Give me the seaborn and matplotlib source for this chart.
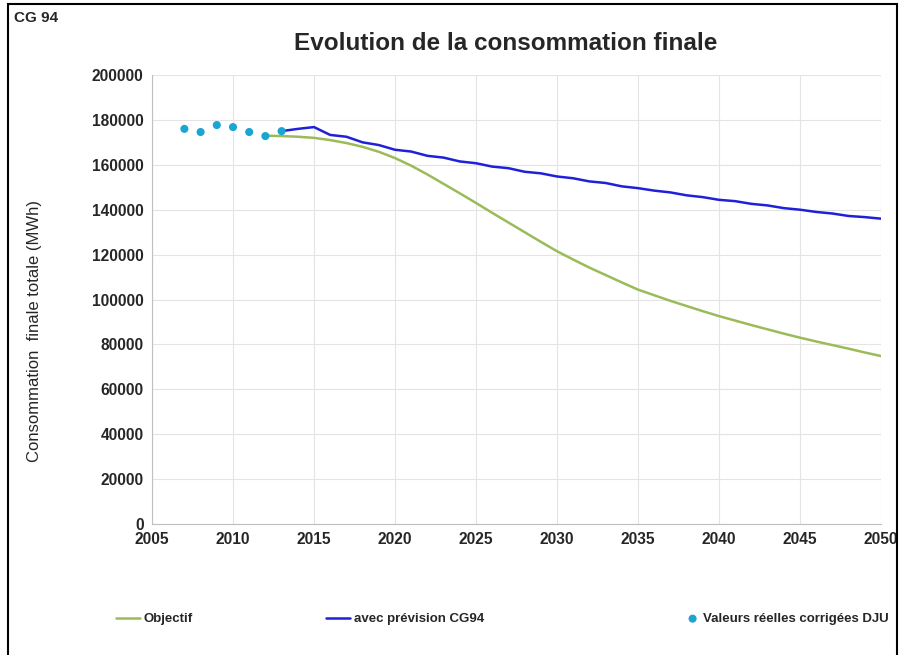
import pandas as pd
import matplotlib
matplotlib.use("Agg")
import matplotlib.pyplot as plt
import seaborn as sns
from matplotlib.patches import Rectangle

# Data
real_years = [2007, 2008, 2009, 2010, 2011, 2012, 2013]
real_values = [176000, 174600, 177700, 176800, 174600, 172800, 175000]

blue_years = list(range(2013, 2051))
blue_values = [175000, 176000, 176800, 173300, 172500, 170000, 168800, 166700,
               165900, 164000, 163200, 161500, 160700, 159200, 158500, 156900,
               156200, 154800, 154000, 152600, 151900, 150400, 149600, 148500,
               147700, 146400, 145600, 144400, 143800, 142600, 141900, 140700,
               140000, 139000, 138300, 137200, 136700, 136000]

green_years = list(range(2012, 2051))
green_values = [173000, 172800, 172500, 172000, 171000, 169700, 168000, 165800,
                163000, 159600, 155700, 151500, 147300, 143000, 138600, 134300,
                130000, 125700, 121500, 117800, 114200, 110900, 107600, 104400,
                101900, 99400, 97100, 94800, 92600, 90600, 88600, 86700,
                84800, 83000, 81300, 79700, 78100, 76400, 74800]

x_ticks = list(range(2005, 2051, 5))
y_ticks = list(range(0, 200001, 20000))

df_real = pd.DataFrame({"year": real_years, "value": real_values})
df_blue = pd.DataFrame({"year": blue_years, "value": blue_values})
df_green = pd.DataFrame({"year": green_years, "value": green_values})

sns.set_style("white")
plt.rcParams['font.family'] = ['Liberation Sans', 'DejaVu Sans']

fig = plt.figure(figsize=(9.01, 6.55), dpi=100)
ax = fig.add_axes([152 / 901, 1 - 524 / 655, (881 - 152) / 901, (524 - 75) / 655])

sns.lineplot(data=df_green, x="year", y="value", ax=ax, color="#9BBB59",
             linewidth=1.8, label="Objectif")
sns.lineplot(data=df_blue, x="year", y="value", ax=ax, color="#2020D8",
             linewidth=1.8, label="avec prévision CG94")
sns.scatterplot(data=df_real, x="year", y="value", ax=ax, color="#1AA6D2",
                s=34, edgecolor="none", label="Valeurs réelles corrigées DJU",
                zorder=3)

ax.set_xlim(2005, 2050)
ax.set_ylim(0, 200000)
ax.set_xticks(x_ticks)
ax.set_yticks(y_ticks)
ax.set_xticklabels([str(t) for t in x_ticks], fontsize=11.2, fontweight="bold")
ax.set_yticklabels([str(t) for t in y_ticks], fontsize=11.2, fontweight="bold")
ax.grid(True, color="#E4E4E4", linewidth=0.8)
ax.set_axisbelow(True)
for side in ["top", "right"]:
    ax.spines[side].set_visible(False)
for side in ["left", "bottom"]:
    ax.spines[side].set_color("#BFBFBF")
ax.tick_params(axis="both", length=3, color="#BFBFBF", pad=3)
ax.set_xlabel("")
ax.set_ylabel("Consommation  finale totale (MWh)", fontsize=12)
ax.yaxis.set_label_coords(-0.151, 0.43)

ax.get_legend().remove()
handles, labels = ax.get_legend_handles_labels()
legend_x = [116, 326, 686]
handle_len = [1.8, 1.8, 1.0]
for h, lab, lx, hl in zip(handles, labels, legend_x, handle_len):
    fig.legend([h], [lab], loc="center left",
               bbox_to_anchor=(lx / 901, 1 - 619 / 655), frameon=False,
               handlelength=hl, handletextpad=0.3, borderpad=0,
               borderaxespad=0, prop={"size": 9.5, "weight": "bold"})

fig.text(506 / 901, 1 - 43 / 655, "Evolution de la consommation finale",
         ha="center", va="center", fontsize=17.5, fontweight="bold")
fig.text(14 / 901, 1 - 18 / 655, "CG 94", ha="left", va="center",
         fontsize=11, fontweight="bold")

fig.patches.append(Rectangle((8 / 901, -0.01), 889 / 901, 1 - 4 / 655 + 0.01,
                             transform=fig.transFigure, fill=False,
                             edgecolor="black", linewidth=1.5))

fig.savefig("out.png", dpi=100)
